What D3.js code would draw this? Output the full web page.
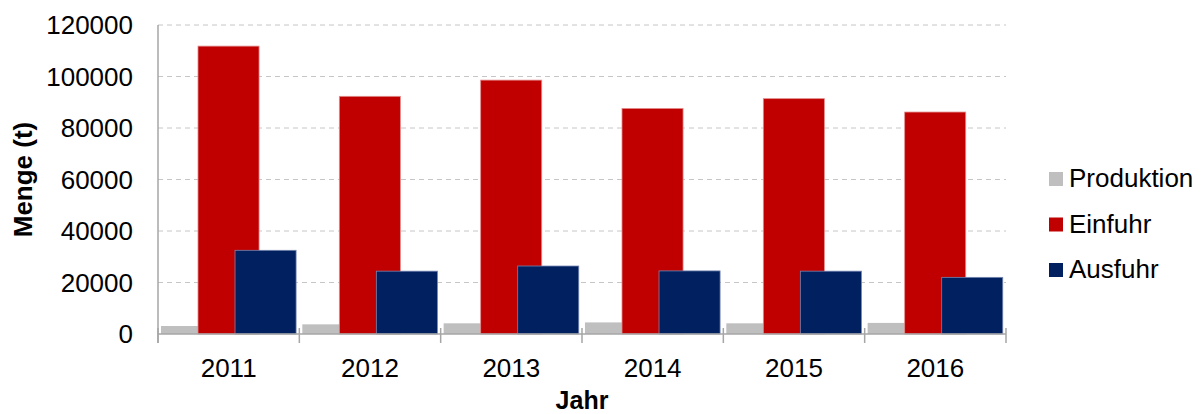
<!DOCTYPE html>
<html>
<head>
<meta charset="utf-8">
<script src="https://cdn.jsdelivr.net/npm/d3@7"></script>
<style>
  body { margin: 0; background: #fff; }
  text { font-family: "Liberation Sans", Arial, sans-serif; fill: #000; }
</style>
</head>
<body>
<div id="chart"></div>
<script>
//////////////////////// Data ////////////////////////////
var years = ["2011", "2012", "2013", "2014", "2015", "2016"];
var seriesNames = ["Produktion", "Einfuhr", "Ausfuhr"];
var produktion = [3100, 3750, 4150, 4500, 4150, 4300];
var einfuhr = [111800, 92300, 98600, 87600, 91400, 86200];
var ausfuhr = [32500, 24400, 26400, 24500, 24400, 22000];
var yTicks = [0, 20000, 40000, 60000, 80000, 100000, 120000];

var seriesValues = [produktion, einfuhr, ausfuhr];
var colors = ["#bfbfbf", "#c00000", "#002060"];
var strokes = ["none", "#e38c8c", "#7385b0"];

//////////////////////// Set-up ////////////////////////////
var width = 1202, height = 414;
var plot = { left: 158, right: 1006, top: 25, bottom: 334 };
var fontSize = "26px";

var svg = d3.select("#chart").append("svg")
    .attr("width", width)
    .attr("height", height);

var x = d3.scaleBand()
    .domain(years)
    .range([plot.left, plot.right])
    .paddingInner(0).paddingOuter(0);

var y = d3.scaleLinear()
    .domain([0, 120000])
    .range([plot.bottom, plot.top]);

// bars overlap each other inside a year, like the Excel original
var barW = x.bandwidth() * 0.432;
var xs = d3.scaleLinear()
    .domain([0, 2])
    .range([x.bandwidth() * 0.021, x.bandwidth() * 0.545]);

//////////////////////// Grid ////////////////////////////
svg.append("g").selectAll("line")
    .data(yTicks.filter(function (d) { return d > 0; }))
    .enter().append("line")
    .attr("x1", plot.left).attr("x2", plot.right)
    .attr("y1", function (d) { return y(d); })
    .attr("y2", function (d) { return y(d); })
    .style("stroke", "#c6c6c6")
    .style("stroke-width", 1)
    .style("stroke-dasharray", "5,4");

//////////////////////// Bars ////////////////////////////
seriesValues.forEach(function (vals, si) {
    svg.append("g").selectAll("rect")
        .data(vals)
        .enter().append("rect")
        .attr("x", function (d, i) { return x(years[i]) + xs(si); })
        .attr("y", function (d) { return y(d); })
        .attr("width", barW)
        .attr("height", function (d) { return y(0) - y(d); })
        .style("fill", colors[si])
        .style("stroke", strokes[si])
        .style("stroke-width", 0.8);
});

//////////////////////// Axes ////////////////////////////
var axisColor = "#a6a6a6";

// y axis line
svg.append("line")
    .attr("x1", plot.left).attr("x2", plot.left)
    .attr("y1", plot.top).attr("y2", plot.bottom + 9)
    .style("stroke", axisColor).style("stroke-width", 1.5);

// x axis line
svg.append("line")
    .attr("x1", plot.left).attr("x2", plot.right)
    .attr("y1", plot.bottom).attr("y2", plot.bottom)
    .style("stroke", axisColor).style("stroke-width", 1.5);

// x tick marks at category boundaries
var bounds = years.map(function (d) { return x(d); }).concat([plot.right]);
svg.append("g").selectAll("line")
    .data(bounds)
    .enter().append("line")
    .attr("x1", function (d) { return d; })
    .attr("x2", function (d) { return d; })
    .attr("y1", plot.bottom - 6).attr("y2", plot.bottom + 9)
    .style("stroke", axisColor).style("stroke-width", 1.5);

// y tick labels
svg.append("g").selectAll("text")
    .data(yTicks)
    .enter().append("text")
    .attr("x", 133)
    .attr("y", function (d) { return y(d); })
    .attr("dy", "0.35em")
    .style("text-anchor", "end")
    .style("font-size", fontSize)
    .text(function (d) { return d; });

// x labels
svg.append("g").selectAll("text")
    .data(years)
    .enter().append("text")
    .attr("x", function (d) { return x(d) + x.bandwidth() / 2; })
    .attr("y", 377)
    .style("text-anchor", "middle")
    .style("font-size", fontSize)
    .text(function (d) { return d; });

// axis titles
svg.append("text")
    .attr("x", (plot.left + plot.right) / 2)
    .attr("y", 409)
    .style("text-anchor", "middle")
    .style("font-size", "25px")
    .style("font-weight", "bold")
    .text("Jahr");

svg.append("text")
    .attr("transform", "translate(32," + ((plot.top + plot.bottom) / 2) + ") rotate(-90)")
    .style("text-anchor", "middle")
    .style("font-size", fontSize)
    .style("font-weight", "bold")
    .text("Menge (t)");

//////////////////////// Legend ////////////////////////////
var legend = svg.append("g").selectAll("g")
    .data(seriesNames)
    .enter().append("g")
    .attr("transform", function (d, i) { return "translate(1049," + (172 + i * 45.5) + ")"; });

legend.append("rect")
    .attr("width", 14).attr("height", 14)
    .style("fill", function (d, i) { return colors[i]; });

legend.append("text")
    .attr("x", 20)
    .attr("y", 15)
    .style("font-size", fontSize)
    .text(function (d) { return d; });
</script>
</body>
</html>
